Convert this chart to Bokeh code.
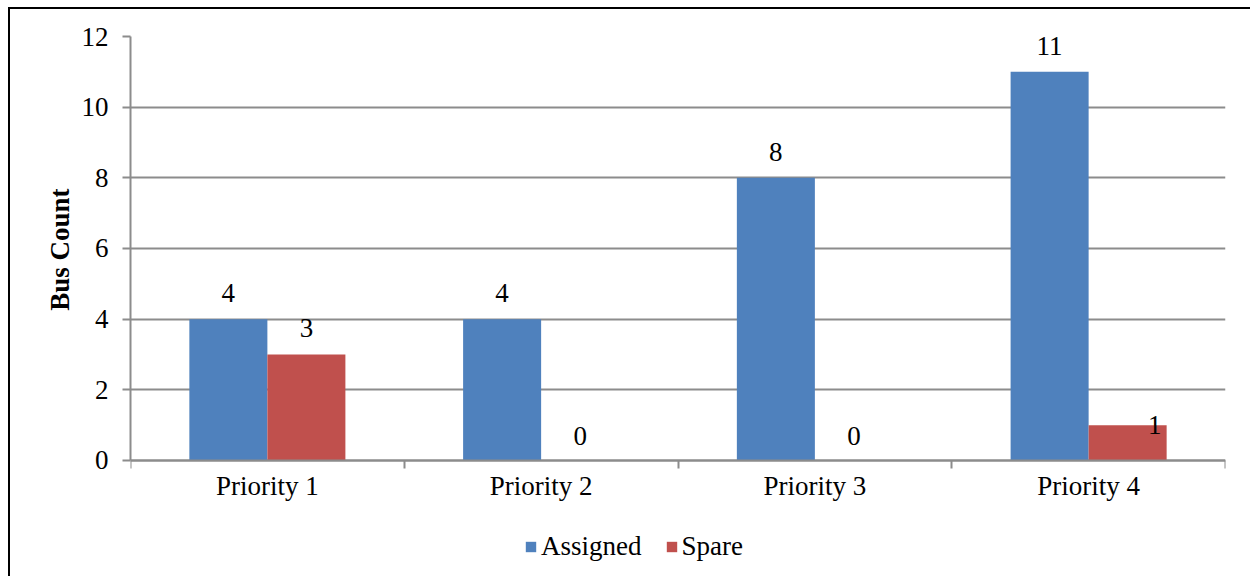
from bokeh.plotting import figure
from bokeh.models import (ColumnDataSource, FixedTicker, Range1d, Legend, LegendItem,
                          LabelSet, Title)
from bokeh.core.properties import value
from bokeh.embed import file_html
from bokeh.resources import INLINE

categories = ["Priority 1", "Priority 2", "Priority 3", "Priority 4"]
assigned = [4, 4, 8, 11]
spare = [3, 0, 0, 1]
y_ticks = [0, 2, 4, 6, 8, 10, 12]
y_label = "Bus Count"
series_names = ["Assigned", "Spare"]
colors = ["#4F81BD", "#C0504D"]

FONT = "Liberation Serif"
FS = "27px"
GRAY = "#8C8C8C"
BAR_W = 0.285
Y_MAX = y_ticks[-1]
Y_MIN = -3.34  # extra room below the axis for tick labels and legend

n = len(categories)
centers = [i + 0.5 for i in range(n)]

src_a = ColumnDataSource(dict(
    x=[c - BAR_W / 2 for c in centers], top=assigned,
    lbl=[str(v) for v in assigned], dx=[0] * n,
    dy=[26 if v > 0 else 24 for v in assigned]))
# Excel shifted the small "1" label aside so it sits beside the bar top
src_s = ColumnDataSource(dict(
    x=[c + BAR_W / 2 for c in centers], top=spare,
    lbl=[str(v) for v in spare],
    dx=[27 if v == 1 else 0 for v in spare],
    dy=[26 if v > 1 else (0 if v == 1 else 24) for v in spare]))

p = figure(width=1242, height=569, output_backend="svg", toolbar_location=None,
           x_range=Range1d(0, n), y_range=Range1d(Y_MIN, Y_MAX),
           min_border_left=120, min_border_right=27, min_border_top=27,
           min_border_bottom=0)
p.margin = (7, 0, 0, 8)
p.stylesheets = [":host { border-top: 2px solid #000000; border-left: 2px solid #000000; }"]
p.outline_line_color = None
p.background_fill_color = "white"
p.border_fill_color = "white"

ra = p.vbar(x="x", top="top", width=BAR_W, bottom=0, source=src_a,
            fill_color=colors[0], line_color=None)
rs = p.vbar(x="x", top="top", width=BAR_W, bottom=0, source=src_s,
            fill_color=colors[1], line_color=None)

for src in (src_a, src_s):
    labels = LabelSet(x="x", y="top", text="lbl", source=src, x_offset="dx",
                      y_offset="dy", text_align="center", text_baseline="middle",
                      text_font=value(FONT), text_font_size=FS, text_color="#000000")
    p.add_layout(labels)

# x axis at y = 0: labels at category centers, ticks at boundaries
xt = FixedTicker(ticks=centers, minor_ticks=list(range(n + 1)))
p.xaxis.fixed_location = 0
p.xaxis.ticker = xt
p.xaxis.major_label_overrides = {c: categories[i] for i, c in enumerate(centers)}
p.xaxis.major_tick_line_color = None
p.xaxis.major_tick_out = 8
p.xaxis.major_tick_in = 0
p.xaxis.minor_tick_line_color = GRAY
p.xaxis.minor_tick_line_width = 2
p.xaxis.minor_tick_out = 8
p.xaxis.minor_tick_in = 0
p.xaxis.axis_line_color = GRAY
p.xaxis.axis_line_width = 2
p.xaxis.major_label_text_font = FONT
p.xaxis.major_label_text_font_size = FS
p.xaxis.major_label_text_color = "#000000"
p.xaxis.major_label_standoff = 3
p.xgrid.grid_line_color = None

p.yaxis.ticker = FixedTicker(ticks=y_ticks, minor_ticks=[])
p.yaxis.bounds = (0, Y_MAX)
p.yaxis.axis_line_color = GRAY
p.yaxis.axis_line_width = 2
p.yaxis.major_tick_line_color = GRAY
p.yaxis.major_tick_line_width = 2
p.yaxis.major_tick_out = 8
p.yaxis.major_tick_in = 0
p.yaxis.minor_tick_line_color = None
p.yaxis.major_label_text_font = FONT
p.yaxis.major_label_text_font_size = FS
p.yaxis.major_label_text_color = "#000000"
p.yaxis.major_label_standoff = 14
p.ygrid.grid_line_color = GRAY
p.ygrid.grid_line_width = 2
p.ygrid.bounds = (0, n)

# y-axis title, placed along the 0..12 span rather than the whole frame
ytitle = Title(text=y_label, align="right", offset=152, text_font=FONT,
               text_font_size=FS, text_font_style="bold", text_color="#000000",
               standoff=8)
p.add_layout(ytitle, "left")

legend = Legend(items=[LegendItem(label=series_names[0], renderers=[ra]),
                       LegendItem(label=series_names[1], renderers=[rs])],
                orientation="horizontal", location=(394, 16),
                border_line_color=None, background_fill_alpha=0,
                label_text_font=FONT, label_text_font_size=FS,
                label_text_color="#000000", glyph_width=13, glyph_height=13,
                label_standoff=4, spacing=23, padding=2, margin=0)
p.add_layout(legend, "center")

open("out.html", "w").write(file_html(p, INLINE))
